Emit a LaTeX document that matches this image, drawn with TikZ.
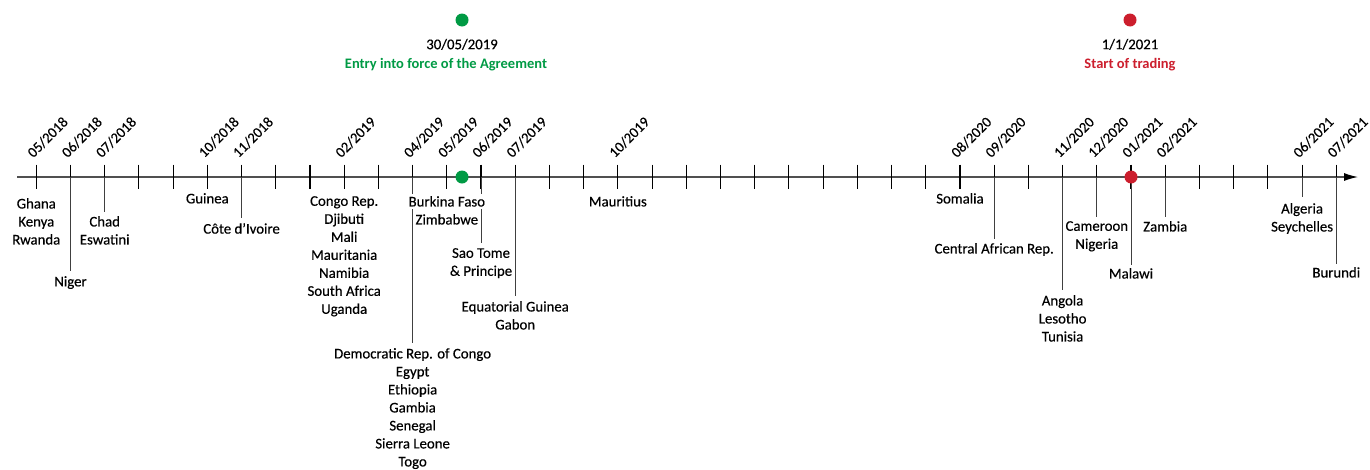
\documentclass[tikz,border=0pt]{standalone}
\usepackage{fontspec}
\setmainfont{Carlito}[UprightFeatures={FakeBold=0.4}]
\usetikzlibrary{positioning,arrows.meta}
\definecolor{agreegreen}{RGB}{0,154,68}
\definecolor{tradered}{RGB}{204,30,45}
\definecolor{axisgray}{RGB}{80,80,80}

\begin{document}
\begin{tikzpicture}[x=1pt, y=-1pt,
  lab/.style={font=\fontsize{14.8}{18}\selectfont, align=center, inner sep=0pt},
  datelab/.style={font=\fontsize{14.6}{18}\selectfont, rotate=45, anchor=south west, inner sep=0pt},
  tickline/.style={line width=1.1pt, black},
  leader/.style={line width=0.8pt, black!75},
  dot/.style={circle, inner sep=0pt, minimum size=13pt}]
  \useasboundingbox (0,0) rectangle (1370,469);

  % Axis
  \coordinate (start) at (17,177);
  \coordinate (end) at (1358,177);
  \draw[axisgray, line width=1.2pt, -{Latex[length=14pt,width=8pt,black]}] (start) -- (end);

  % Month ticks, 05/2018 ... 07/2021
  \foreach \i in {0,...,38} {
    \coordinate (m\i) at ({36.3+\i*34.21},177);
    \draw[tickline] ([yshift=12.5pt]m\i) -- ([yshift=-12pt]m\i);
  }

  % Dates on the ticks
  \foreach \i/\mm/\yy in {0/05/2018, 1/06/2018, 2/07/2018, 5/10/2018, 6/11/2018,
      9/02/2019, 11/04/2019, 12/05/2019, 13/06/2019, 14/07/2019, 17/10/2019,
      27/08/2020, 28/09/2020, 30/11/2020, 31/12/2020, 32/01/2021, 33/02/2021,
      37/06/2021, 38/07/2021}
    \node[datelab] (d\i) at ([xshift=-2.5pt, yshift=18pt]m\i) {\mm/\yy};

  % Countries
  \node[lab, below=21pt of m0] (ghana) {Ghana\\Kenya\\Rwanda};
  \node[lab, below=99pt of m1] (niger) {Niger};
  \node[lab, below=39pt of m2] (chad) {Chad\\Eswatini};
  \node[lab, below=16pt of m5] (guinea) {Guinea};
  \node[lab, below=46pt of m6] (cote) {Côte d'Ivoire};
  \node[lab, below=19pt of m9] (congo) {Congo Rep.\\Djibuti\\Mali\\Mauritania\\Namibia\\South Africa\\Uganda};
  \node[lab, below=171pt of m11] (drc) {Democratic Rep. of Congo\\Egypt\\Ethiopia\\Gambia\\Senegal\\Sierra Leone\\Togo};
  \node[lab, below=71pt of m13] (saotome) {Sao Tome\\\& Principe};
  \node[lab, below=124pt of m14] (eqguinea) {Equatorial Guinea\\Gabon};
  \node[lab, below=19pt of m17] (mauritius) {Mauritius};
  \node[lab, below=16pt of m27] (somalia) {Somalia};
  \node[lab, below=66pt of m28] (car) {Central African Rep.};
  \node[lab, below=118pt of m30] (angola) {Angola\\Lesotho\\Tunisia};
  \node[lab, below=44pt of m31] (cameroon) {Cameroon\\Nigeria};
  \node[lab, below=91pt of m32] (malawi) {Malawi};
  \node[lab, below=44pt of m33] (zambia) {Zambia};
  \node[lab, below=26pt of m37] (algeria) {Algeria\\Seychelles};
  \node[lab, below=90pt of m38] (burundi) {Burundi};

  % Leader lines
  \draw[leader] (m1) -- ([yshift=5pt]niger.north);
  \draw[leader] (m2) -- ([yshift=4pt]chad.north);
  \draw[leader] (m6) -- ([yshift=5pt]cote.north);
  \draw[leader] (m11) -- ([yshift=5pt]drc.north);
  \draw[leader] (m13) -- ([yshift=5pt]saotome.north);
  \draw[leader] (m14) -- ([yshift=5pt]eqguinea.north);
  \draw[leader] (m28) -- ([yshift=4pt]car.north);
  \draw[leader] (m30) -- ([yshift=5pt]angola.north);
  \draw[leader] (m31) -- ([yshift=4pt]cameroon.north);
  \draw[leader] (m32) -- ([yshift=3pt]malawi.north);
  \draw[leader] (m33) -- ([yshift=4pt]zambia.north);
  \draw[leader] (m37) -- ([yshift=6pt]algeria.north);
  \draw[leader] (m38) -- ([yshift=3pt]burundi.north);

  % 05/2019 group sits over the 04/2019 line
  \node[lab, fill=white, inner sep=2pt, below=17pt of m12] (burkina) {Burkina Faso};
  \node[lab, below=37pt of m12] (zimb) {Zimbabwe};

  % Milestones
  \node[dot, fill=agreegreen] (gdot) at (462,177) {};
  \node[dot, fill=tradered] (rdot) at (m32) {};
  \node[dot, fill=agreegreen] (gtop) at (462,20) {};
  \node[lab, below=12pt of gtop] (gdate) {30/05/2019};
  \node[lab, below=8pt of gdate, xshift=-16pt, text=agreegreen, font=\fontsize{14.5}{18}\selectfont\bfseries] (entry) {Entry into force of the Agreement};
  \node[dot, fill=tradered] (rtop) at (1130,20) {};
  \node[lab, below=12pt of rtop] (rdate) {1/1/2021};
  \node[lab, below=8pt of rdate, text=tradered, font=\fontsize{14.5}{18}\selectfont\bfseries] (trade) {Start of trading};
\end{tikzpicture}
\end{document}
